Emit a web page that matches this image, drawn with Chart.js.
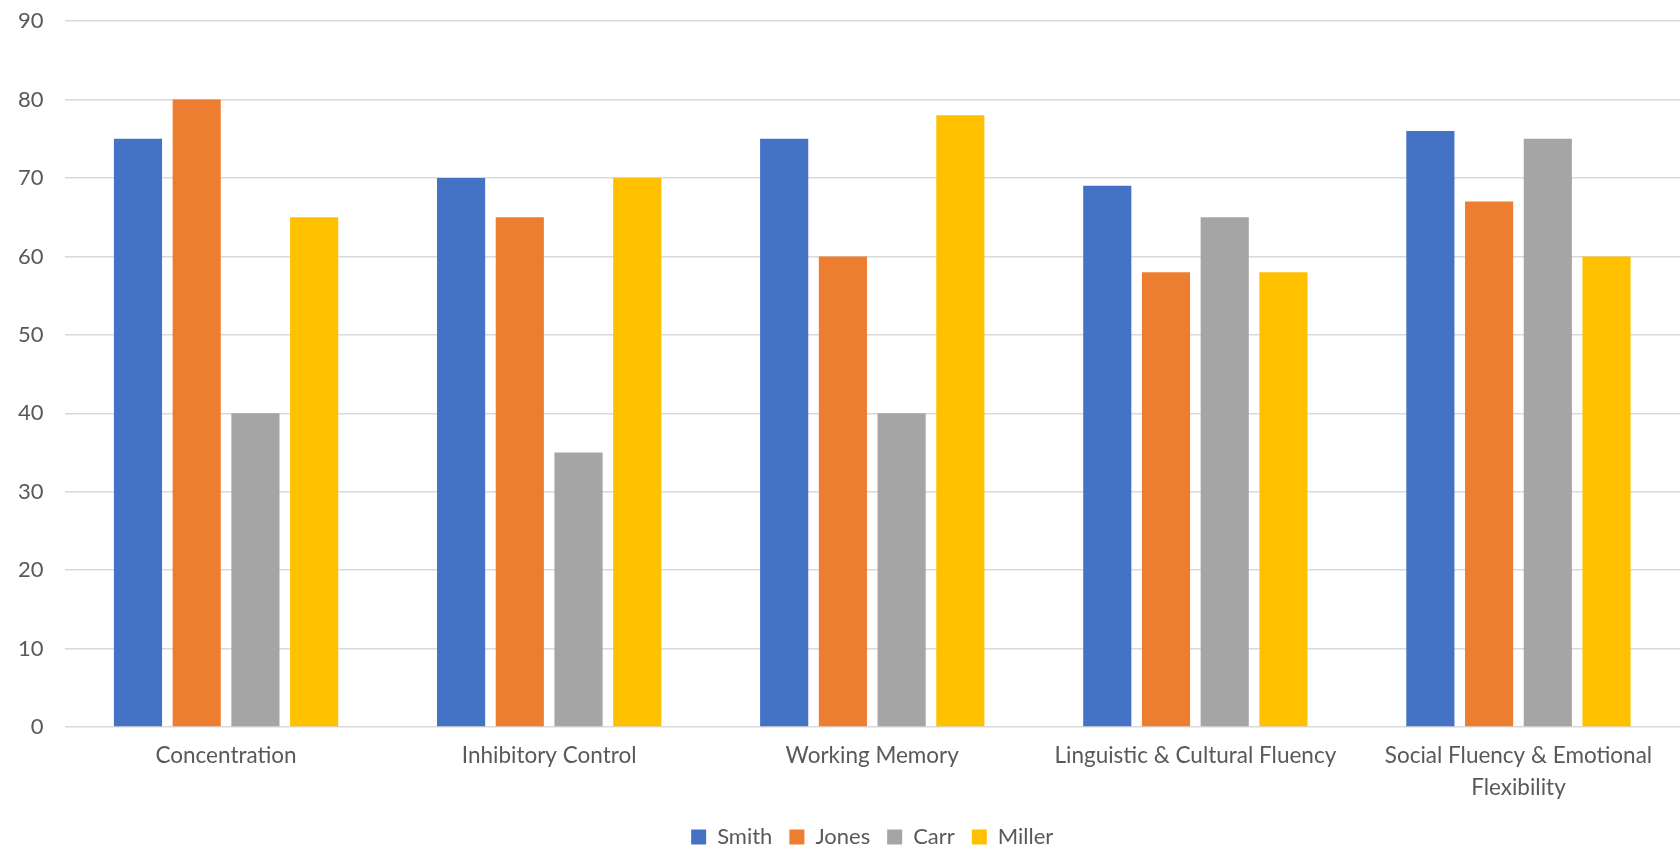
<!DOCTYPE html>
<html>
<head>
<meta charset="utf-8">
<script src="https://cdn.jsdelivr.net/npm/chart.js@4/dist/chart.umd.min.js"></script>
<style>
    html, body { margin: 0; padding: 0; background: #fff; overflow: hidden; }
    #wrap { width: 1680px; height: 858px; }
</style>
</head>
<body>
<div id="wrap"><canvas id="chart"></canvas></div>
<script>
// categories and series
const categories = [
    'Concentration',
    'Inhibitory Control',
    'Working Memory',
    'Linguistic & Cultural Fluency',
    ['Social Fluency & Emotional', 'Flexibility']
];
const smith = [75, 70, 75, 69, 76];
const jones = [80, 65, 60, 58, 67];
const carr = [40, 35, 40, 65, 75];
const miller = [65, 70, 78, 58, 60];
const yTicks = [0, 10, 20, 30, 40, 50, 60, 70, 80, 90];

const fontFamily = "Lato, 'Open Sans', sans-serif";
const textColor = '#595959';

function makeSet(label, data, color) {
    return {
        label: label,
        data: data,
        backgroundColor: color,
        borderWidth: 0,
        categoryPercentage: 0.727,
        barPercentage: 0.82
    };
}

Chart.defaults.font.family = fontFamily;
Chart.defaults.color = textColor;

new Chart('chart', {
    type: 'bar',
    data: {
        labels: categories,
        datasets: [
            makeSet('Smith', smith, '#4472c4'),
            makeSet('Jones', jones, '#ed7d31'),
            makeSet('Carr', carr, '#a5a5a5'),
            makeSet('Miller', miller, '#ffc000')
        ]
    },
    options: {
        responsive: true,
        maintainAspectRatio: false,
        animation: false,
        layout: {
            padding: { top: 0, right: 0, bottom: 0, left: -3 }
        },
        plugins: {
            legend: {
                position: 'bottom',
                fullSize: false,
                labels: {
                    boxWidth: 15,
                    boxHeight: 15,
                    padding: 17,
                    font: { size: 22 },
                    color: textColor
                }
            },
            tooltip: { enabled: false }
        },
        scales: {
            x: {
                grid: { display: false },
                border: { display: false },
                ticks: {
                    font: { size: 22.5, lineHeight: 1.42 },
                    color: textColor,
                    maxRotation: 0,
                    autoSkip: false,
                    padding: 5
                }
            },
            y: {
                min: 0,
                max: 90,
                afterBuildTicks: function(axis) {
                    axis.ticks = yTicks.map(v => ({ value: v }));
                },
                grid: {
                    color: '#d9d9d9',
                    lineWidth: 1.5,
                    drawTicks: false
                },
                border: { display: false },
                ticks: {
                    // tiny line height keeps the top label from pushing the plot down
                    font: { size: 22, lineHeight: 0.01 },
                    color: textColor,
                    padding: 21
                }
            }
        }
    }
});
</script>
</body>
</html>
